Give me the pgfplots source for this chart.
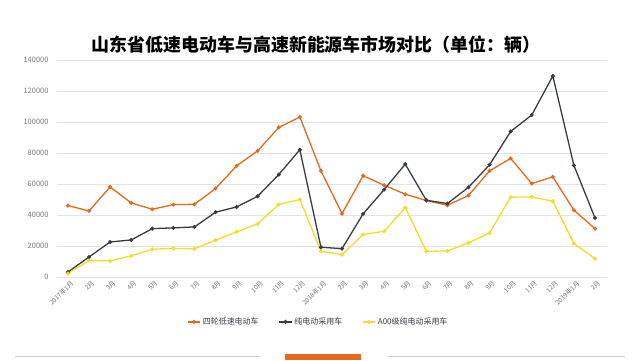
\documentclass[border=0pt]{standalone}
\usepackage{fontspec}
\setmainfont{Noto Sans CJK SC}
\usepackage{pgfplots}
\pgfplotsset{compat=1.18}
\definecolor{cor}{RGB}{232,104,30}
\definecolor{cbk}{RGB}{55,60,70}
\definecolor{cye}{RGB}{240,222,40}
\definecolor{ctk}{RGB}{120,120,120}
\begin{document}
\begin{tikzpicture}[x=1bp,y=1bp]
\path[use as bounding box] (0,0) rectangle (640,360);
\fill[white] (0,0) rectangle (640,360);
\node[font=\bfseries\fontsize{18}{21}\selectfont] at (316,315) {山东省低速电动车与高速新能源车市场对比（单位：辆）};
\begin{axis}[at={(57bp,83bp)}, anchor=south west, width=550bp, height=217bp, scale only axis,
  xmin=-0.52, xmax=25.57, ymin=0, ymax=140000,
  ytick={0,20000,40000,60000,80000,100000,120000,140000},
  yticklabels={0,20000,40000,60000,80000,100000,120000,140000},
  scaled y ticks=false,
  axis line style={draw=none}, major tick length=0,
  ymajorgrids, major grid style={gray!22, line width=0.6pt},
  yticklabel style={font=\fontsize{7.5}{8}\selectfont, text=ctk, xshift=-5bp},
  xtick={0,...,25},
  xticklabels={2017年1月,2月,3月,4月,5月,6月,7月,8月,9月,10月,11月,12月,2018年1月,2月,3月,4月,5月,6月,7月,8月,9月,10月,11月,12月,2019年1月,2月},
  xticklabel style={font=\fontsize{6.5}{7}\selectfont, text=ctk, rotate=45, anchor=north east, inner sep=0.5bp, yshift=-3bp},
  legend style={at={(0.475,-0.207)}, anchor=center, draw=none, fill=none, font=\fontsize{8}{9}\selectfont, text=cbk, legend columns=3, /tikz/every even column/.append style={column sep=18bp}},
  legend image code/.code={\draw[mark repeat=2,mark phase=2] plot coordinates {(0cm,0cm) (0.22cm,0cm) (0.44cm,0cm)};},
  every axis plot/.append style={line width=1.3pt, mark=*, mark size=1.3pt},
]
\addplot[color=cor] coordinates {
(0,46100)(1,42600)(2,58100)(3,47800)(4,43700)(5,46700)(6,46900)(7,57100)(8,71700)(9,81400)(10,96500)(11,103200)
(12,68500)(13,40900)(14,65300)(15,59200)(16,53400)(17,49300)(18,46300)(19,52600)(20,68500)(21,76500)(22,60300)(23,64600)
(24,43100)(25,31200)};
\addlegendentry{四轮低速电动车}
\addplot[color=cbk] coordinates {
(0,3200)(1,12900)(2,22600)(3,23900)(4,31200)(5,31700)(6,32300)(7,41800)(8,45200)(9,52100)(10,66100)(11,82100)
(12,19200)(13,18300)(14,40700)(15,56400)(16,72800)(17,49500)(18,47400)(19,57900)(20,72400)(21,93900)(22,104500)(23,129700)
(24,72000)(25,38100)};
\addlegendentry{纯电动采用车}
\addplot[color=cye] coordinates {
(0,2200)(1,10600)(2,10400)(3,13600)(4,17900)(5,18500)(6,18200)(7,23700)(8,29100)(9,34300)(10,46800)(11,50000)
(12,16600)(13,14400)(14,27400)(15,29500)(16,44800)(17,16600)(18,16800)(19,22000)(20,28400)(21,51500)(22,51700)(23,48900)
(24,21600)(25,11900)};
\addlegendentry{A00级纯电动采用车}
\end{axis}
\draw[gray!35, line width=0.8pt] (15,4) -- (260,4);
\draw[gray!35, line width=0.8pt] (388,4) -- (625,4);
\fill[cor] (285,0) rectangle (361,6);
\end{tikzpicture}
\end{document}
